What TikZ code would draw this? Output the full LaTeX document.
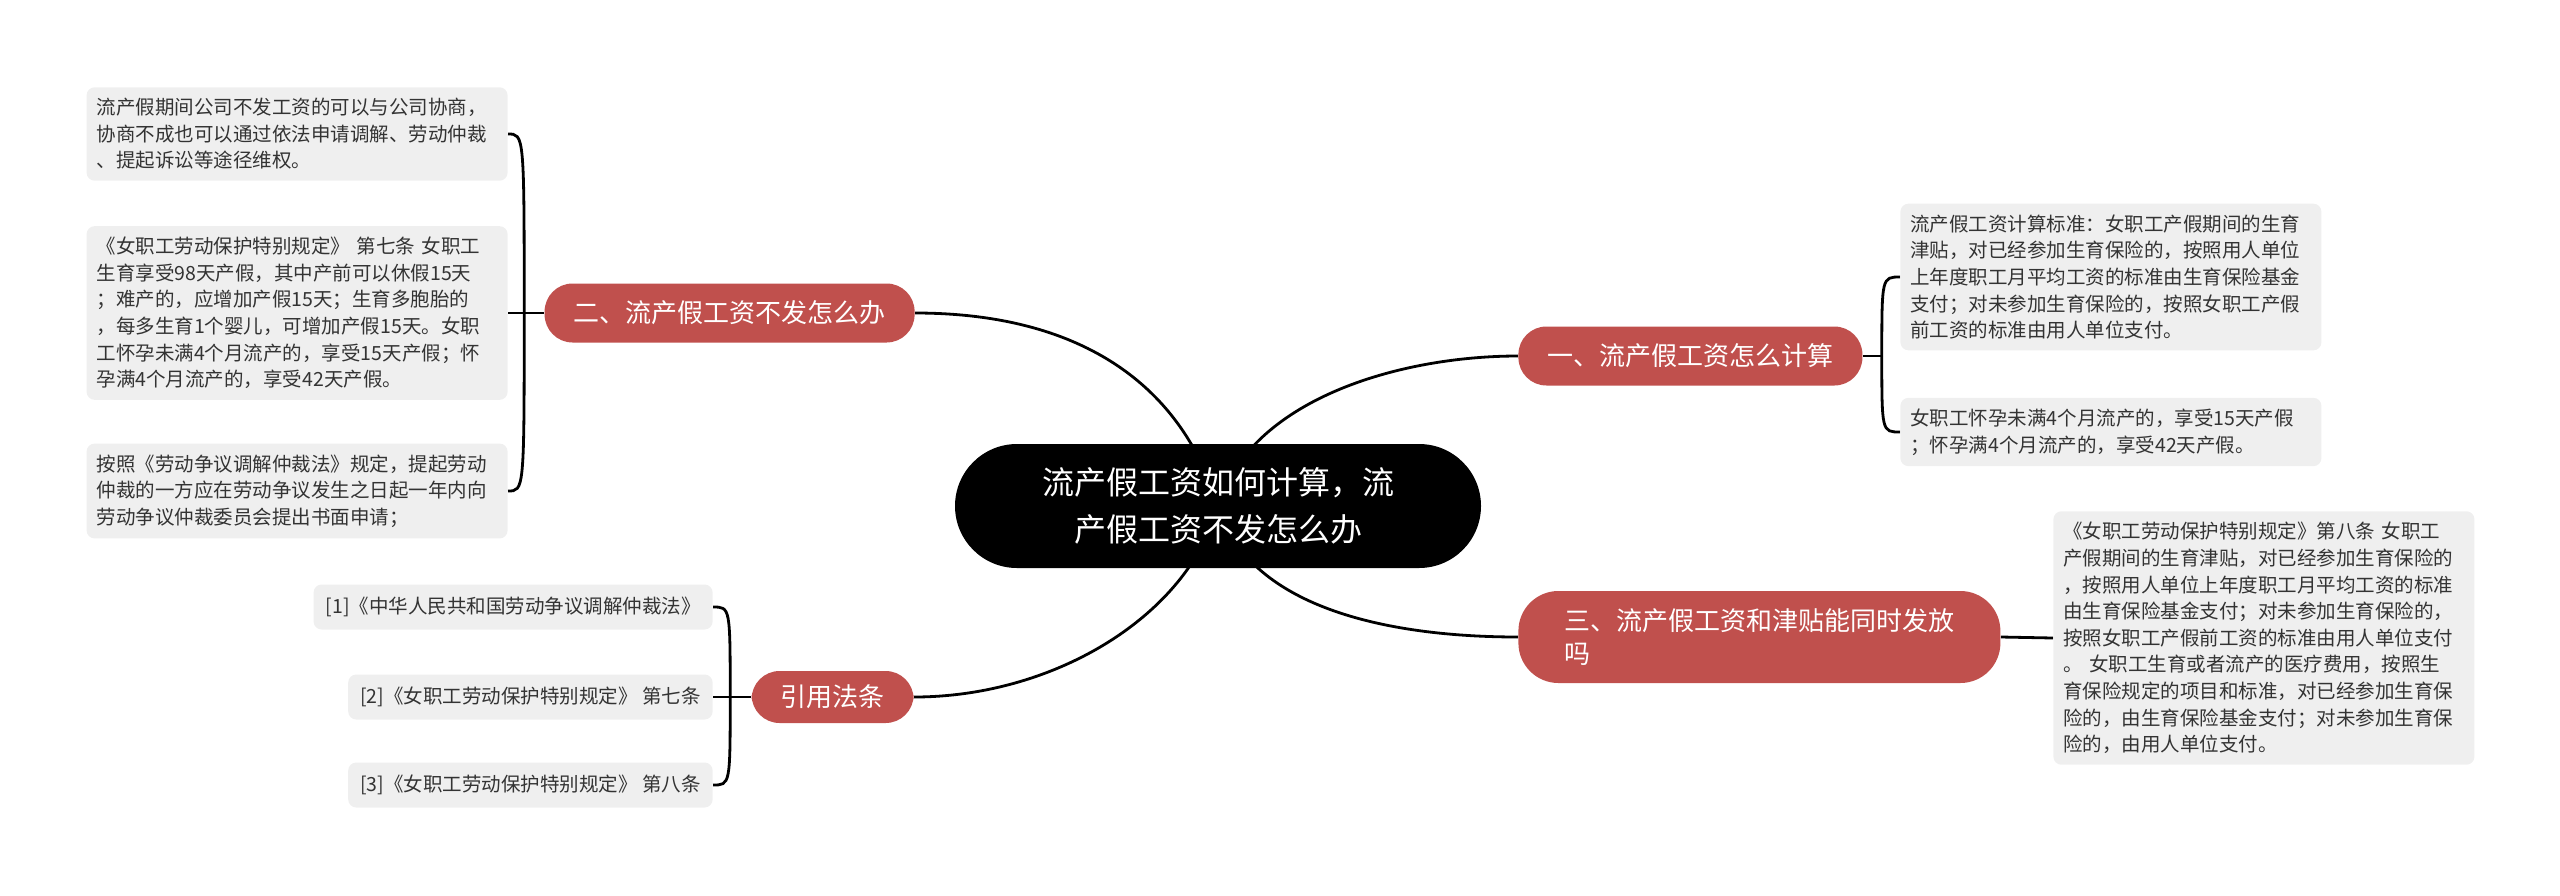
\documentclass[tikz,border=0pt]{standalone}
\usepackage{fontspec}
\setmainfont{Noto Sans CJK SC}
\usepackage{xcolor}
\usepackage{tikz}
\usetikzlibrary{backgrounds}
\definecolor{branchred}{HTML}{C0504D}
\definecolor{leafgray}{HTML}{EFEFEF}
\definecolor{leaftext}{HTML}{333333}
\tikzstyle{root}=[
    rectangle,
    fill=black,
    text=white,
    rounded corners=31pt,
    minimum width=263pt,
    minimum height=62pt,
    align=center,
    font=\fontsize{16}{23.5}\selectfont]
\tikzstyle{branch}=[
    rectangle,
    fill=branchred,
    text=white,
    rounded corners=14pt,
    inner xsep=14.5pt,
    minimum height=29.5pt,
    align=left,
    font=\fontsize{13}{16.7}\selectfont]
\tikzstyle{leaf}=[
    rectangle,
    fill=leafgray,
    text=leaftext,
    rounded corners=4pt,
    inner xsep=5pt,
    inner ysep=5.5pt,
    text width=200.5pt,
    align=left,
    font=\fontsize{9.75}{13.3}\selectfont]
\tikzstyle{refbox}=[
    leaf,
    text width=,
    inner xsep=6pt,
    minimum height=22.5pt]
\tikzstyle{link}=[draw=black, line width=1.4pt]

\begin{document}
\begin{tikzpicture}[x=0.5pt, y=-0.5pt]
    \useasboundingbox (0,0) rectangle (2560,895);

    % centre
    \node[root] (main) at (1218,506) {流产假工资如何计算，流\\产假工资不发怎么办};

    % branches
    \node[branch, anchor=west] (calc) at (1518,356) {一、流产假工资怎么计算};
    \node[branch, anchor=east] (unpaid) at (915,313) {二、流产假工资不发怎么办};
    \node[branch, anchor=west, inner xsep=23pt, minimum height=46pt, rounded corners=20pt] (both) at (1518,637) {三、流产假工资和津贴能同时发放\\吗};
    \node[branch, anchor=east, minimum height=26pt] (laws) at (914,697) {引用法条};

    % left leaves
    \node[leaf, anchor=east] (l1) at (508,134) {流产假期间公司不发工资的可以与公司协商，\\协商不成也可以通过依法申请调解、劳动仲裁\\、提起诉讼等途径维权。};
    \node[leaf, anchor=east] (l2) at (508,313) {《女职工劳动保护特别规定》~第七条~女职工\\生育享受98天产假，其中产前可以休假15天\\；难产的，应增加产假15天；生育多胞胎的\\，每多生育1个婴儿，可增加产假15天。女职\\工怀孕未满4个月流产的，享受15天产假；怀\\孕满4个月流产的，享受42天产假。};
    \node[leaf, anchor=east] (l3) at (508,491) {按照《劳动争议调解仲裁法》规定，提起劳动\\仲裁的一方应在劳动争议发生之日起一年内向\\劳动争议仲裁委员会提出书面申请；};

    % references
    \node[refbox, anchor=east] (r1) at (713,607) {[1]《中华人民共和国劳动争议调解仲裁法》};
    \node[refbox, anchor=east] (r2) at (713,697) {[2]《女职工劳动保护特别规定》 第七条};
    \node[refbox, anchor=east] (r3) at (713,785) {[3]《女职工劳动保护特别规定》 第八条};

    % right leaves
    \node[leaf, anchor=west] (rl1) at (1900,277) {流产假工资计算标准：女职工产假期间的生育\\津贴，对已经参加生育保险的，按照用人单位\\上年度职工月平均工资的标准由生育保险基金\\支付；对未参加生育保险的，按照女职工产假\\前工资的标准由用人单位支付。};
    \node[leaf, anchor=west] (rl2) at (1900,432) {女职工怀孕未满4个月流产的，享受15天产假\\；怀孕满4个月流产的，享受42天产假。};
    \node[leaf, anchor=west] (rl3) at (2053,638) {《女职工劳动保护特别规定》第八条~女职工\\产假期间的生育津贴，对已经参加生育保险的\\，按照用人单位上年度职工月平均工资的标准\\由生育保险基金支付；对未参加生育保险的，\\按照女职工产假前工资的标准由用人单位支付\\。~女职工生育或者流产的医疗费用，按照生\\育保险规定的项目和标准，对已经参加生育保\\险的，由生育保险基金支付；对未参加生育保\\险的，由用人单位支付。};

    \begin{pgfonlayer}{background}
        % centre to branches
        \draw[link] (unpaid.east) .. controls +(160,0) and +(-38,-126) .. (main.center);
        \draw[link] (main.center) .. controls +(32,-106) and +(-120,0) .. (calc.west);
        \draw[link] (main.center) .. controls +(32,106) and +(-120,0) .. (both.west);
        \draw[link] (main.center) .. controls +(-30,110) and +(140,0) .. (laws.east);

        % branches to leaves
        \coordinate (s2) at ([xshift=-10pt]unpaid.west);
        \draw[link] (unpaid.west) -- (l2.east);
        \draw[link] (s2) .. controls (s2 |- l1.east) .. (l1.east);
        \draw[link] (s2) .. controls (s2 |- l3.east) .. (l3.east);

        \coordinate (s1) at ([xshift=9.5pt]calc.east);
        \draw[link] (calc.east) -- (s1);
        \draw[link] (s1) .. controls (s1 |- rl1.west) .. (rl1.west);
        \draw[link] (s1) .. controls (s1 |- rl2.west) .. (rl2.west);

        \draw[link] (both.east) -- (rl3.west);

        \coordinate (s4) at ([xshift=-10.5pt]laws.west);
        \draw[link] (laws.west) -- (r2.east);
        \draw[link] (s4) .. controls (s4 |- r1.east) .. (r1.east);
        \draw[link] (s4) .. controls (s4 |- r3.east) .. (r3.east);
    \end{pgfonlayer}
\end{tikzpicture}
\end{document}
